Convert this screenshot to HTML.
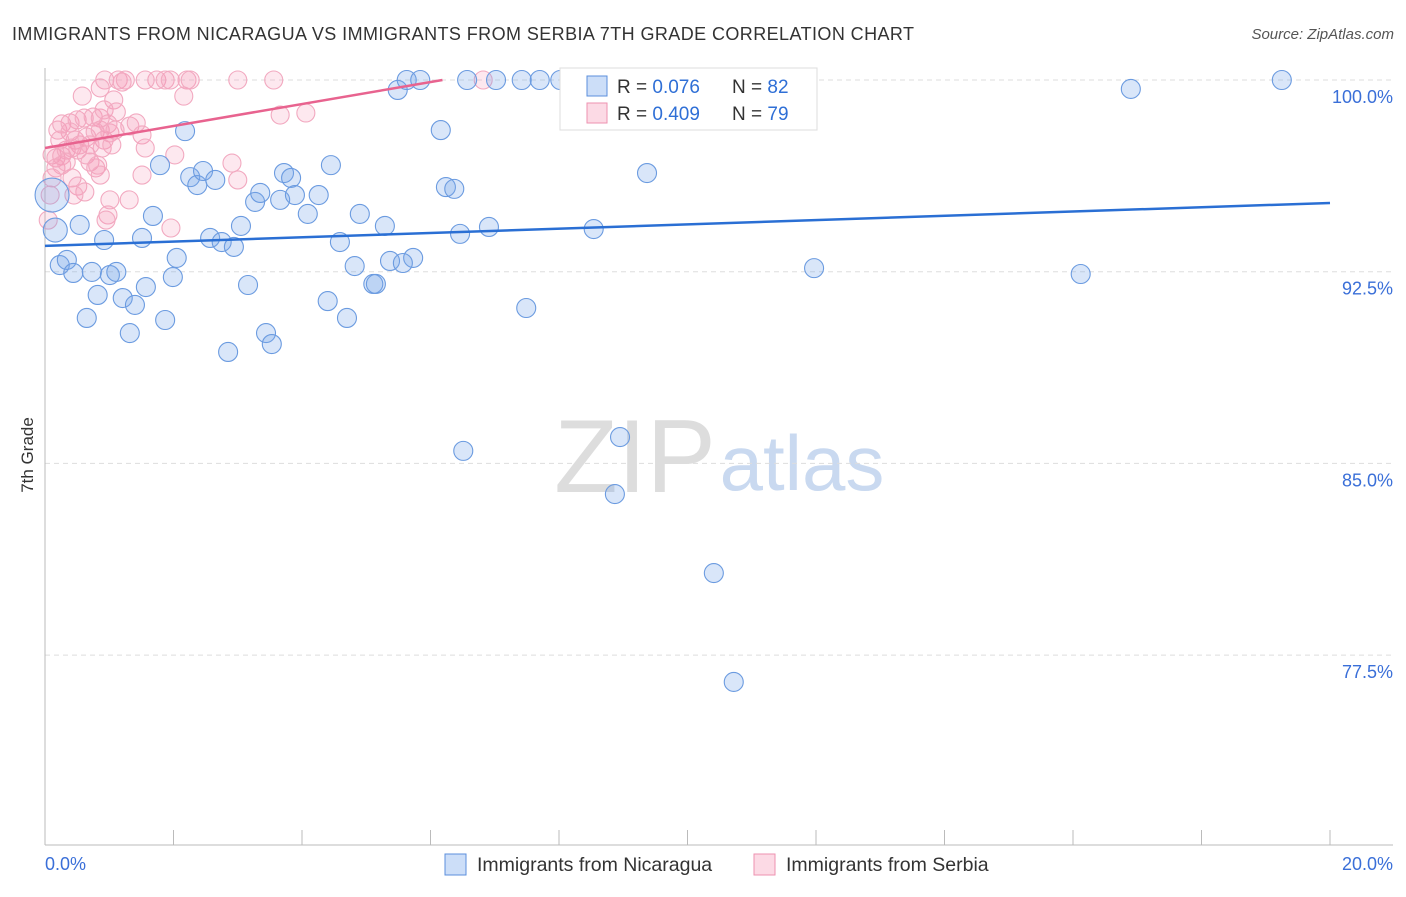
<!DOCTYPE html>
<html><head><meta charset="utf-8"><style>
body{margin:0;background:#fff;font-family:"Liberation Sans",sans-serif;}
svg text{font-family:"Liberation Sans",sans-serif;}
</style></head><body>
<svg id="c" width="1406" height="892">
<text x="12" y="40" font-size="18" fill="#333" textLength="902" lengthAdjust="spacing">IMMIGRANTS FROM NICARAGUA VS IMMIGRANTS FROM SERBIA 7TH GRADE CORRELATION CHART</text>
<text x="1394" y="39" font-size="15" fill="#555" font-style="italic" text-anchor="end">Source: ZipAtlas.com</text>
<text transform="translate(33,455) rotate(-90)" font-size="17" fill="#333" text-anchor="middle">7th Grade</text>
<g><text x="635" y="492" font-size="104" fill="#ddd" font-family="Liberation Serif" text-anchor="middle">ZIP</text><text x="802" y="490" font-size="78" fill="#c9d9f0" text-anchor="middle">atlas</text></g>
<g id="grid"></g><g id="pts"></g><g id="lines"></g>
<g>
<rect x="560" y="68" width="257" height="62" fill="#fff" stroke="#ddd"/>
<rect x="587" y="76" width="20" height="20" fill="rgba(110,160,235,0.35)" stroke="#5b8fdc"/>
<rect x="587" y="103" width="20" height="20" fill="rgba(245,150,180,0.35)" stroke="#ee92b0"/>
<text x="617" y="93" font-size="19" fill="#333">R = <tspan fill="#2f6fd6">0.076</tspan></text>
<text x="732" y="93" font-size="19" fill="#333">N = <tspan fill="#2f6fd6">82</tspan></text>
<text x="617" y="120" font-size="19" fill="#333">R = <tspan fill="#2f6fd6">0.409</tspan></text>
<text x="732" y="120" font-size="19" fill="#333">N = <tspan fill="#2f6fd6">79</tspan></text>
</g>
<g>
<rect x="445" y="854" width="21" height="21" fill="rgba(110,160,235,0.35)" stroke="#5b8fdc"/>
<text x="477" y="871" font-size="19.5" fill="#333">Immigrants from Nicaragua</text>
<rect x="754" y="854" width="21" height="21" fill="rgba(245,150,180,0.35)" stroke="#ee92b0"/>
<text x="786" y="871" font-size="19.5" fill="#333">Immigrants from Serbia</text>
</g>
</svg>
<script>
const yTicks=[100,92.5,85,77.5];
const xTickLabels=["0.0%","20.0%"];
const blueX=[.16,.11,.23,.34,.44,.54,.65,.73,.82,.92,1.01,1.11,1.21,1.32,1.40,1.51,1.57,1.68,1.79,1.87,1.99,2.05,2.18,2.26,2.37,2.46,2.57,2.65,2.75,2.85,2.94,3.05,3.16,3.27,3.35,3.44,3.53,3.66,3.72,3.83,3.89,4.09,4.26,4.40,4.45,4.59,4.70,4.82,4.90,5.11,5.15,5.29,5.37,5.49,5.63,5.73,5.84,6.16,6.24,6.37,6.46,6.51,6.57,6.91,7.02,7.42,7.49,7.70,8.02,8.54,8.87,8.95,9.37,10.41,10.72,11.97,16.12,16.90,19.25,5.57];
const blueY=[94.13,95.50,92.76,92.96,92.45,94.33,90.69,92.49,91.59,93.74,92.37,92.49,91.47,90.10,91.20,93.82,91.90,94.68,96.67,90.61,92.29,93.04,98.00,96.20,95.89,96.44,93.82,96.09,93.66,89.36,93.47,94.29,91.98,95.23,95.58,90.10,89.67,95.31,96.36,96.17,95.50,94.76,95.50,91.35,96.67,93.66,90.69,92.72,94.76,92.02,92.02,94.29,92.92,99.61,100,93.04,100,98.04,95.81,95.74,93.98,85.49,100,94.25,100,100,91.08,100,100,94.17,83.80,86.03,96.36,80.71,76.45,92.64,92.41,99.65,100,92.84];
const pinkX=[.93,1.14,1.25,1.20,1.74,1.87,1.95,2.21,2.26,3.00,3.56,6.82,8.45,.86,.58,1.07,2.16,1.56,.20,.26,.39,.50,.61,.75,.86,.92,.98,1.11,1.32,1.42,.39,.47,.54,.65,.78,.86,.92,1.01,1.09,.11,.17,.26,.33,.42,.51,.64,.70,.79,.82,.89,.17,.26,.42,.51,.62,1.01,.98,.95,1.31,1.51,1.56,1.51,2.02,1.96,2.91,3.00,3.66,4.06,.05,.08,.23,.45,.70,1.04,.11,.33,.86];
const pinkY=[100,100,100,99.92,100,100,100,100,100,100,100,100,100,99.69,99.37,99.22,99.37,100,98.04,98.28,98.32,98.44,98.51,98.55,98.51,98.83,98.28,98.75,98.20,98.32,97.97,97.65,97.46,97.77,97.97,98.04,97.65,97.93,98.04,97.07,96.95,97.03,97.26,97.34,97.26,97.07,96.79,96.56,96.67,97.34,96.56,96.67,96.17,95.85,95.62,95.31,94.72,94.52,95.31,97.85,97.34,96.28,97.07,94.21,96.75,96.09,98.63,98.71,94.52,95.50,97.65,95.50,97.46,97.46,96.17,96.79,96.28];
const blueTrend=[93.51,95.19];
const pinkTrend=[97.34,0.43];
const NS="http://www.w3.org/2000/svg";
const X0=45,X1=1330,Y100=80,PXPER=191.7/7.5;
const sx=v=>X0+v/20*(X1-X0);
const sy=v=>Y100+(100-v)*PXPER;
function mk(t,a,p){const e=document.createElementNS(NS,t);for(const k in a)e.setAttribute(k,a[k]);p.appendChild(e);return e;}
const g=document.getElementById('grid');
yTicks.forEach(t=>{
 const l=mk('line',{x1:X0,x2:1393,y1:sy(t),y2:sy(t),stroke:'#ddd','stroke-dasharray':'5,4'},g);
 
 
 const tx=mk('text',{x:1393,y:sy(t)+23,'font-size':18,fill:'#3a6fd8','text-anchor':'end'},g);
 tx.textContent=t.toFixed(1)+'%';
 
 
});
const ax=mk('line',{x1:X0,x2:X0,y1:68,y2:845,stroke:'#bbb'},g);


const bx=mk('line',{x1:X0,x2:1393,y1:845,y2:845,stroke:'#bbb'},g);


for(let i=0;i<=10;i++){const t=mk('line',{x1:sx(i*2),x2:sx(i*2),y1:830,y2:845,stroke:'#bbb'},g);
 
 }
[[0,'start',X0],[1,'end',1393]].forEach(([i,a,x])=>{const t=mk('text',{x:x,y:870,'font-size':18,fill:'#3a6fd8','text-anchor':a},g);t.textContent=xTickLabels[i];
 
 });
const P=document.getElementById('pts');
pinkX.forEach((v,i)=>{const c=mk('circle',{cx:sx(v),cy:sy(pinkY[i]),r:9,fill:'rgba(245,150,180,0.22)',stroke:'#f2a9c0','stroke-width':1.1},P);
 
 });
blueX.forEach((v,i)=>{const r=i==1?17:(i==0?12:9.5);const c=mk('circle',{cx:sx(v),cy:sy(blueY[i]),r:r,fill:'rgba(120,165,235,0.28)',stroke:'#6b9be0','stroke-width':1.1},P);
 
 });
const L=document.getElementById('lines');
const bl=mk('line',{x1:sx(0),y1:sy(blueTrend[0]),x2:sx(20),y2:sy(blueTrend[1]),stroke:'#2a6fd4','stroke-width':2.5},L);


const xe=(100-pinkTrend[0])/pinkTrend[1];
const pl=mk('line',{x1:sx(0),y1:sy(pinkTrend[0]),x2:sx(xe),y2:sy(100),stroke:'#e8638f','stroke-width':2.5},L);


</script>
</body></html>
